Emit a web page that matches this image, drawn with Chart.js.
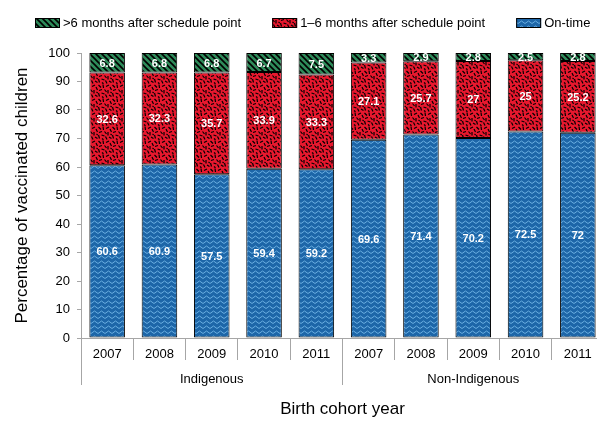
<!DOCTYPE html>
<html>
<head>
<meta charset="utf-8">
<script src="https://cdn.jsdelivr.net/npm/chart.js@4.4.1/dist/chart.umd.min.js"></script>
<style>
  html, body { margin: 0; padding: 0; overflow: hidden; background: #fff; }
  #wrap { width: 620px; height: 421px; }
</style>
</head>
<body>
<div id="wrap"><canvas id="myChart" width="620" height="421"></canvas></div>
<script>
// data
const years = ['2007', '2008', '2009', '2010', '2011'];
const groups = ['Indigenous', 'Non-Indigenous'];
const onTime = [60.6, 60.9, 57.5, 59.4, 59.2, 69.6, 71.4, 70.2, 72.5, 72];
const oneToSix = [32.6, 32.3, 35.7, 33.9, 33.3, 27.1, 25.7, 27, 25, 25.2];
const overSix = [6.8, 6.8, 6.8, 6.7, 7.5, 3.3, 2.9, 2.8, 2.5, 2.8];
const seriesNames = ['On-time', '1\u20136 months after schedule point', '>6 months after schedule point'];

const FONT = '"Liberation Sans", Arial, sans-serif';
Chart.defaults.font.family = FONT;
Chart.defaults.color = '#000';

// pattern fills
function makeTile(w, h, draw) {
    const c = document.createElement('canvas');
    c.width = w;
    c.height = h;
    const t = c.getContext('2d');
    draw(t);
    return document.createElement('canvas').getContext('2d').createPattern(c, 'repeat');
}

const greenPattern = makeTile(6, 6, function(t) {
    t.fillStyle = '#2e8b5a';
    t.fillRect(0, 0, 6, 6);
    t.strokeStyle = '#000';
    t.lineWidth = 1.6;
    t.beginPath();
    t.moveTo(-1, -1); t.lineTo(7, 7);
    t.moveTo(-1, 5); t.lineTo(1, 7);
    t.moveTo(5, -1); t.lineTo(7, 1);
    t.stroke();
});

const redPattern = makeTile(14, 14, function(t) {
    t.fillStyle = '#e8182e';
    t.fillRect(0, 0, 14, 14);
    t.strokeStyle = '#000';
    t.lineWidth = 1.2;
    t.lineCap = 'butt';
    const dashes = [
        [0.5, 1, 3, 3.5], [5, 0.5, 5.5, 4], [8, 2.5, 11, 1], [12, 3, 13.5, 6],
        [1, 6.5, 4, 5.5], [6.5, 5.5, 8.5, 8], [10, 6, 10, 9.5], [0.5, 9, 1.5, 12.5],
        [3.5, 9, 6.5, 10], [7.5, 10.5, 9, 13.5], [11, 11, 13.5, 12.5], [4, 12.5, 5.5, 13.8],
        [12.5, 8, 13.8, 9]
    ];
    t.beginPath();
    dashes.forEach(function(d) {
        t.moveTo(d[0], d[1]);
        t.lineTo(d[2], d[3]);
    });
    t.stroke();
});

const bluePattern = makeTile(7, 5, function(t) {
    t.fillStyle = '#1d66a8';
    t.fillRect(0, 0, 7, 5);
    t.strokeStyle = '#6aaee0';
    t.lineWidth = 1;
    t.beginPath();
    t.moveTo(0, 3.5); t.lineTo(3.5, 1); t.lineTo(7, 3.5);
    t.stroke();
});

const labels = groups.flatMap(function() { return years; });

// white value labels in the middle of every segment
const barLabels = {
    id: 'barLabels',
    afterDatasetsDraw(chart) {
        const ctx = chart.ctx;
        ctx.save();
        ctx.font = 'bold 11px ' + FONT;
        ctx.fillStyle = '#fff';
        ctx.textAlign = 'center';
        ctx.textBaseline = 'middle';
        chart.data.datasets.forEach(function(ds, i) {
            chart.getDatasetMeta(i).data.forEach(function(bar, j) {
                ctx.fillText(String(ds.data[j]), bar.x, (bar.y + bar.base) / 2 + 1);
            });
        });
        ctx.restore();
    }
};

// legend with the pattern swatches, top series first
const patternLegend = {
    id: 'patternLegend',
    afterDraw(chart) {
        const ctx = chart.ctx;
        let x = 35;
        const y = 18;
        ctx.save();
        ctx.font = '13px ' + FONT;
        ctx.textBaseline = 'middle';
        ctx.textAlign = 'left';
        chart.data.datasets.slice().reverse().forEach(function(ds) {
            ctx.fillStyle = ds.backgroundColor;
            ctx.fillRect(x, y, 25, 10);
            ctx.strokeStyle = '#000';
            ctx.lineWidth = 1;
            ctx.strokeRect(x + 0.5, y + 0.5, 24, 9);
            ctx.fillStyle = '#000';
            ctx.fillText(ds.label, x + 28, y + 5);
            x += 28 + ctx.measureText(ds.label).width + 31;
        });
        ctx.restore();
    }
};

const ctx = document.getElementById('myChart').getContext('2d');
const myChart = new Chart(ctx, {
    type: 'bar',
    data: {
        labels: labels,
        datasets: [
            { label: seriesNames[0], data: onTime, backgroundColor: bluePattern },
            { label: seriesNames[1], data: oneToSix, backgroundColor: redPattern },
            { label: seriesNames[2], data: overSix, backgroundColor: greenPattern }
        ].map(function(ds) {
            ds.xAxisID = 'x';
            ds.borderColor = '#000';
            ds.borderWidth = 1;
            ds.borderSkipped = false;
            ds.barPercentage = 0.68;
            ds.categoryPercentage = 1.0;
            return ds;
        })
    },
    options: {
        responsive: false,
        animation: false,
        layout: { padding: { left: 9, right: 16, top: 53, bottom: 0 } },
        plugins: {
            legend: { display: false },
            tooltip: { enabled: false }
        },
        scales: {
            x: {
                axis: 'x',
                position: 'bottom',
                stacked: true,
                offset: true,
                grid: { offset: true, drawOnChartArea: false, tickLength: 22, color: '#a6a6a6' },
                border: { display: true, color: '#a6a6a6' },
                ticks: { autoSkip: false, maxRotation: 0, padding: -13, font: { size: 13 }, color: '#000' },
                afterFit(scale) { scale.height = 22; }
            },
            x2: {
                type: 'category',
                axis: 'x',
                position: 'bottom',
                labels: groups,
                offset: true,
                grid: { offset: true, drawOnChartArea: false, tickLength: 25, color: '#a6a6a6' },
                border: { display: false },
                ticks: { autoSkip: false, maxRotation: 0, padding: -13, font: { size: 13 }, color: '#000' },
                title: { display: true, text: 'Birth cohort year', font: { size: 17 }, color: '#000', padding: { top: 0, bottom: 1 } },
                afterFit(scale) { scale.height = 61; }
            },
            y: {
                stacked: true,
                min: 0,
                max: 100,
                ticks: { stepSize: 10, padding: 7, font: { size: 13 }, color: '#000' },
                grid: { drawOnChartArea: false, tickLength: 4, color: '#a6a6a6' },
                border: { display: true, color: '#a6a6a6' },
                title: { display: true, text: 'Percentage of vaccinated children', font: { size: 17 }, color: '#000', padding: { top: 3, bottom: 0 } },
                afterFit(scale) { scale.width = 72; }
            }
        }
    },
    plugins: [barLabels, patternLegend]
});
</script>
</body>
</html>
